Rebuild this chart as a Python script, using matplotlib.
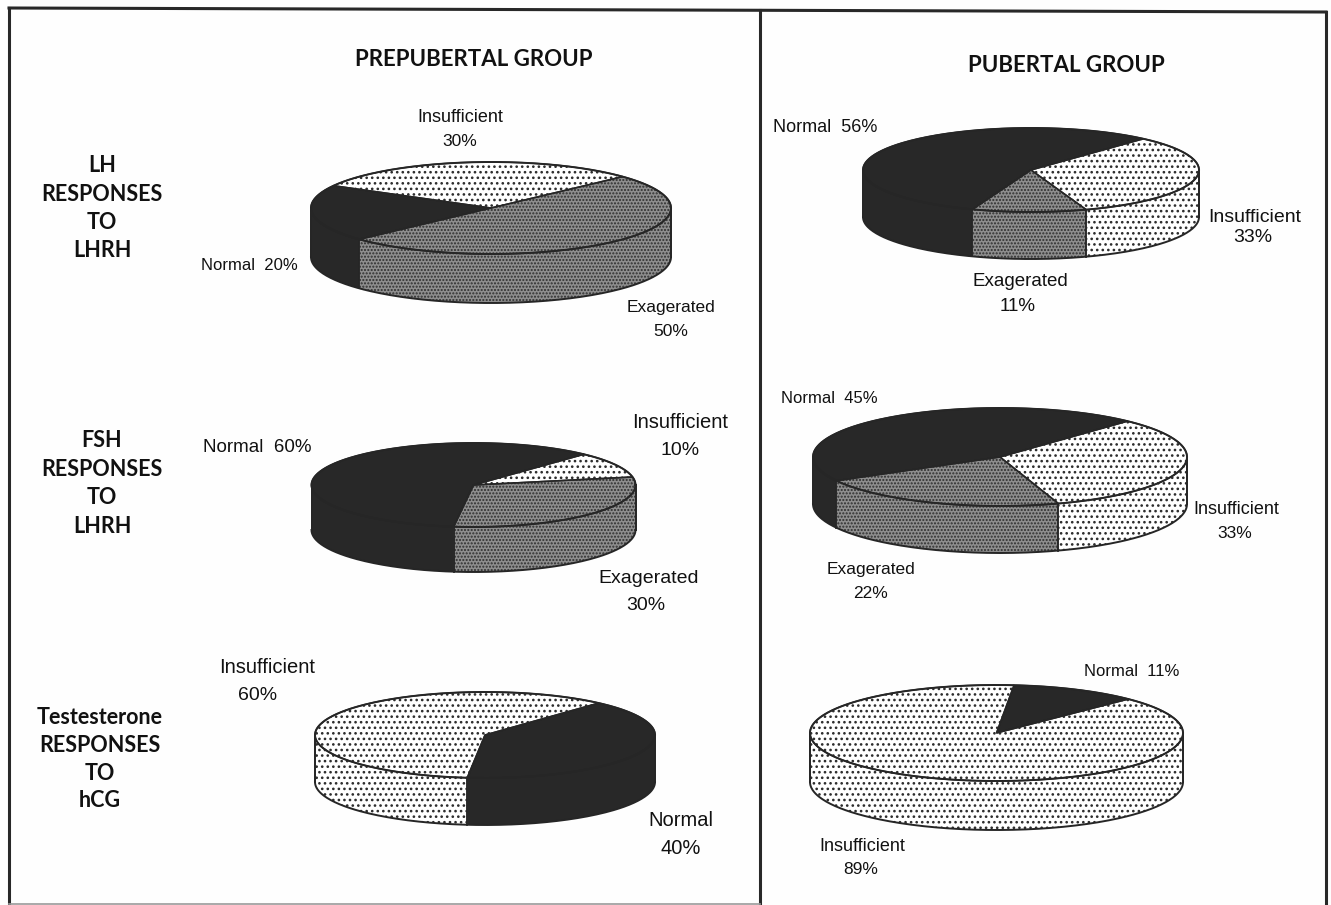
#!/usr/bin/env python3
"""Gonadotropin and testosterone responses: six 3-D style pies in two groups."""

import numpy as np
import matplotlib
matplotlib.use("Agg")
import matplotlib.pyplot as plt
from matplotlib.patches import Polygon

# percentages, in counter-clockwise order from each pie's start angle
lh_pre_names = ["Insufficient", "Normal", "Exagerated"]
lh_pre_pct = [30, 20, 50]
fsh_pre_names = ["Normal", "Exagerated", "Insufficient"]
fsh_pre_pct = [60, 30, 10]
t_pre_names = ["Insufficient", "Normal"]
t_pre_pct = [60, 40]
lh_pub_names = ["Normal", "Exagerated", "Insufficient"]
lh_pub_pct = [56, 11, 33]
fsh_pub_names = ["Normal", "Exagerated", "Insufficient"]
fsh_pub_pct = [45, 22, 33]
t_pub_names = ["Normal", "Insufficient"]
t_pub_pct = [11, 89]

group_titles = ["PREPUBERTAL GROUP", "PUBERTAL GROUP"]
row_titles = [
    ["LH", "RESPONSES", "TO", "LHRH"],
    ["FSH", "RESPONSES", "TO", "LHRH"],
    ["Testesterone", "RESPONSES", "TO", "hCG"],
]

W, H = 1331, 905
INK = "#282828"
LINE = "#262626"

fig = plt.figure(figsize=(W / 100, H / 100), dpi=100, facecolor="#fefefe")
ax = fig.add_axes([0, 0, 1, 1])
ax.set_xlim(0, W)
ax.set_ylim(H, 0)
ax.axis("off")

# fill, hatch colour and hatch for each category
STYLES = {
    "Normal": dict(facecolor=INK, edgecolor=INK),
    "Insufficient": dict(facecolor="white", edgecolor="#2b2b2b", hatch="...", hatch_linewidth=1.1),
    "Exagerated": dict(facecolor="#8e8e8e", edgecolor="#2e2e2e", hatch=".....", hatch_linewidth=1.0),
}


def arc(cx, cy, rx, ry, t0, t1, dy=0.0):
    t = np.radians(np.linspace(t0, t1, max(int(abs(t1 - t0)), 2) + 1))
    return np.column_stack([cx + rx * np.cos(t), cy - ry * np.sin(t) + dy])


def draw_pie(names, pct, cx, cy, rx, ry, depth, start):
    angles = start + np.concatenate([[0], np.cumsum(pct)]) * 3.6

    # side wall: only the part of each slice on the front half shows
    for name, a0, a1 in zip(names, angles[:-1], angles[1:]):
        for k in (-1, 0, 1):
            lo = max(a0, 180 + 360 * k)
            hi = min(a1, 360 + 360 * k)
            if hi <= lo:
                continue
            top = arc(cx, cy, rx, ry, lo, hi)
            low = arc(cx, cy, rx, ry, hi, lo, dy=depth)
            ax.add_patch(Polygon(np.vstack([top, low]), lw=0, zorder=2, **STYLES[name]))
            ax.plot([top[0, 0]] * 2, [top[0, 1], top[0, 1] + depth], color=LINE, lw=1.1, zorder=3)
            ax.plot([top[-1, 0]] * 2, [top[-1, 1], top[-1, 1] + depth], color=LINE, lw=1.1, zorder=3)

    # top face
    for name, a0, a1 in zip(names, angles[:-1], angles[1:]):
        pts = np.vstack([[cx, cy], arc(cx, cy, rx, ry, a0, a1)])
        ax.add_patch(Polygon(pts, lw=0, zorder=4, **STYLES[name]))
        ax.add_patch(Polygon(pts, fill=False, edgecolor=LINE, lw=1.1, zorder=5))

    # rim
    rim = arc(cx, cy, rx, ry, 0, 360)
    ax.plot(rim[:, 0], rim[:, 1], color=LINE, lw=1.4, zorder=6)
    base = arc(cx, cy, rx, ry, 180, 360, dy=depth)
    ax.plot(base[:, 0], base[:, 1], color=LINE, lw=1.4, zorder=6)
    for x in (cx - rx, cx + rx):
        ax.plot([x, x], [cy, cy + depth], color=LINE, lw=1.4, zorder=6)


draw_pie(lh_pre_names, lh_pre_pct, 491, 208, 180, 46, 49, 43)
draw_pie(fsh_pre_names, fsh_pre_pct, 473.5, 485, 162, 42, 45, 47)
draw_pie(t_pre_names, t_pre_pct, 485, 735, 170, 43, 47, 48)
draw_pie(lh_pub_names, lh_pub_pct, 1031, 170, 168, 42, 47, 48)
draw_pie(fsh_pub_names, fsh_pub_pct, 1000, 457, 187, 49, 47, 47)
draw_pie(t_pub_names, t_pub_pct, 996.5, 733, 186.5, 48, 49, 45)

# slice labels: text, x, y, size
slice_labels = [
    ("Insufficient", 460, 117, 13), ("30%", 460, 141, 12.5),
    ("Normal  20%", 249, 265, 12),
    ("Exagerated", 671, 307, 12.5), ("50%", 671, 331, 12.5),
    ("Insufficient", 680, 422, 14.5), ("10%", 680, 450, 14),
    ("Normal  60%", 257, 447, 13.5),
    ("Exagerated", 649, 578, 14), ("30%", 646, 605, 14),
    ("Insufficient", 267, 667, 14.5), ("60%", 258, 695, 14),
    ("Normal", 681, 820, 14.5), ("40%", 681, 848, 14.5),
    ("Normal  56%", 825, 128, 13),
    ("Insufficient", 1255, 217, 14), ("33%", 1253, 237, 14),
    ("Exagerated", 1020, 281, 13.5), ("11%", 1018, 306, 13.5),
    ("Normal  45%", 829, 398, 12),
    ("Insufficient", 1236, 509, 13), ("33%", 1235, 533, 12.5),
    ("Exagerated", 871, 569, 12.5), ("22%", 870, 593, 12.5),
    ("Normal  11%", 1132, 671, 12),
    ("Insufficient", 862, 846, 13), ("89%", 861, 869, 12.5),
]
for text, x, y, size in slice_labels:
    ax.text(x, y, text, family="Liberation Sans", fontsize=size, color="#111111",
            ha="center", va="center", zorder=8)

# headings
for text, x, y in zip(group_titles, [474, 1066], [59, 66]):
    ax.text(x, y, text, family="Lato", weight="bold", fontsize=16, color="#111111",
            ha="center", va="center")
for lines, xc, ys in zip(row_titles, [102, 102, 100],
                         [[165, 194, 222, 250], [440, 469, 497, 526], [717, 745, 773, 800]]):
    for text, y in zip(lines, ys):
        ax.text(xc, y, text, family="Lato", weight="bold", fontsize=15.5, color="#111111",
                ha="center", va="center")

# frame and centre divider, slightly skewed
ax.plot([9, 9], [8, 905], color=INK, lw=2.2)
ax.plot([9, 1326], [8, 12], color=INK, lw=2.2)
ax.plot([1326, 1326], [12, 905], color=INK, lw=2.2)
ax.plot([760, 760], [10, 905], color=INK, lw=2.2)
ax.plot([9, 760], [904, 904], color="#9a9a9a", lw=1.2)

fig.savefig("out.png", dpi=100, facecolor=fig.get_facecolor())
